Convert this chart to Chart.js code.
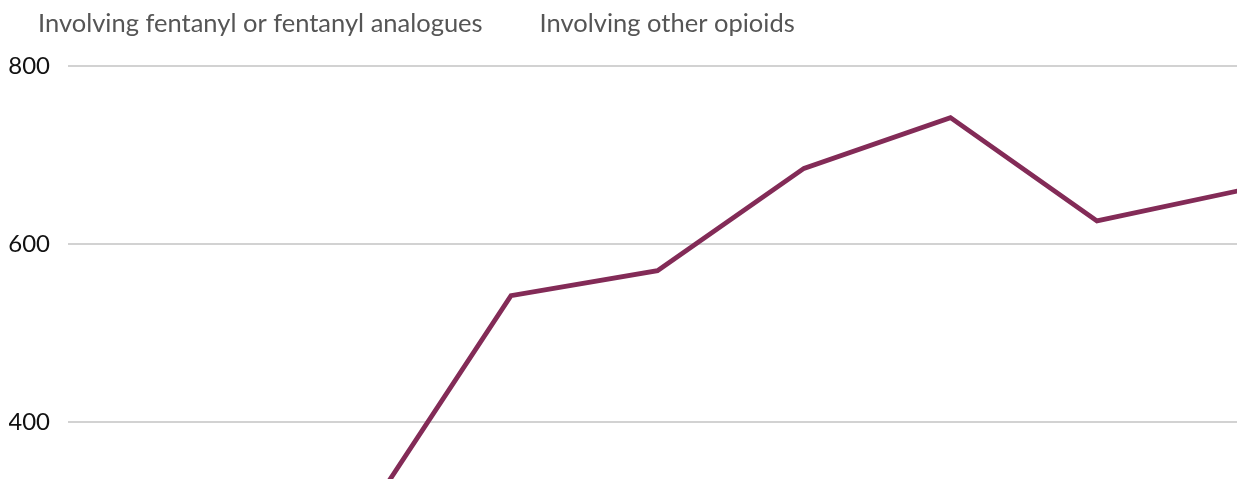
<!DOCTYPE html>
<html>
<head>
<meta charset="utf-8">
<script src="https://cdn.jsdelivr.net/npm/chart.js@4.4.1/dist/chart.umd.min.js"></script>
<style>
  html, body { margin: 0; padding: 0; background: #fff; overflow: hidden; }
  #wrap { position: relative; width: 1237px; height: 479px; }
</style>
</head>
<body>
<div id="wrap"><canvas id="c"></canvas></div>
<script>
// Data
const years = [2014, 2015, 2016, 2017, 2018, 2019, 2020, 2021, 2022];
const seriesLabels = ["Involving fentanyl or fentanyl analogues", "Involving other opioids"];
const fentanyl = []; // not visible in this view
const otherOpioids = [null, null, 292, 542, 570, 685, 742, 626, 661];
const yTickValues = [400, 600, 800];

const FONT = "Lato, 'Open Sans', sans-serif";

// Text-only legend drawn from the dataset labels
const textLegend = {
  id: 'textLegend',
  afterDraw(chart) {
    const ctx = chart.ctx;
    ctx.save();
    ctx.font = "25.5px " + FONT;
    ctx.fillStyle = '#555555';
    ctx.textBaseline = 'alphabetic';
    ctx.textAlign = 'left';
    let x = 38;
    chart.data.datasets.forEach((ds) => {
      ctx.fillText(ds.label, x, 32);
      x += ctx.measureText(ds.label).width + 57;
    });
    ctx.restore();
  }
};

new Chart(document.getElementById('c'), {
  type: 'line',
  data: {
    datasets: [
      {
        label: seriesLabels[0],
        data: fentanyl.map((v, i) => ({ x: years[i], y: v })),
        borderColor: '#c9a227',
        backgroundColor: '#c9a227',
        borderWidth: 4,
        pointRadius: 0
      },
      {
        label: seriesLabels[1],
        data: otherOpioids.map((v, i) => ({ x: years[i], y: v })),
        borderColor: '#832b57',
        backgroundColor: '#832b57',
        borderWidth: 4.8,
        pointRadius: 0,
        tension: 0,
        spanGaps: false
      }
    ]
  },
  plugins: [textLegend],
  options: {
    responsive: true,
    maintainAspectRatio: false,
    animation: false,
    layout: { padding: { left: 9, right: 0, top: 66, bottom: 0 } },
    plugins: {
      tooltip: { enabled: false },
      legend: { display: false }
    },
    scales: {
      x: {
        type: 'linear',
        display: false,
        min: years[0] - 0.024,
        max: years[0] + 7.956
      },
      y: {
        min: 336,
        max: 800,
        afterBuildTicks: (axis) => { axis.ticks = yTickValues.map(v => ({ value: v })); },
        afterFit: (axis) => { axis.paddingTop = 0; axis.paddingBottom = 0; axis.width = 59; },
        border: { display: false },
        grid: { color: '#d2d2d2', lineWidth: 2, drawTicks: false },
        ticks: {
          padding: 18,
          color: '#111111',
          font: { family: FONT, size: 24 }
        }
      }
    }
  }
});
</script>
</body>
</html>
